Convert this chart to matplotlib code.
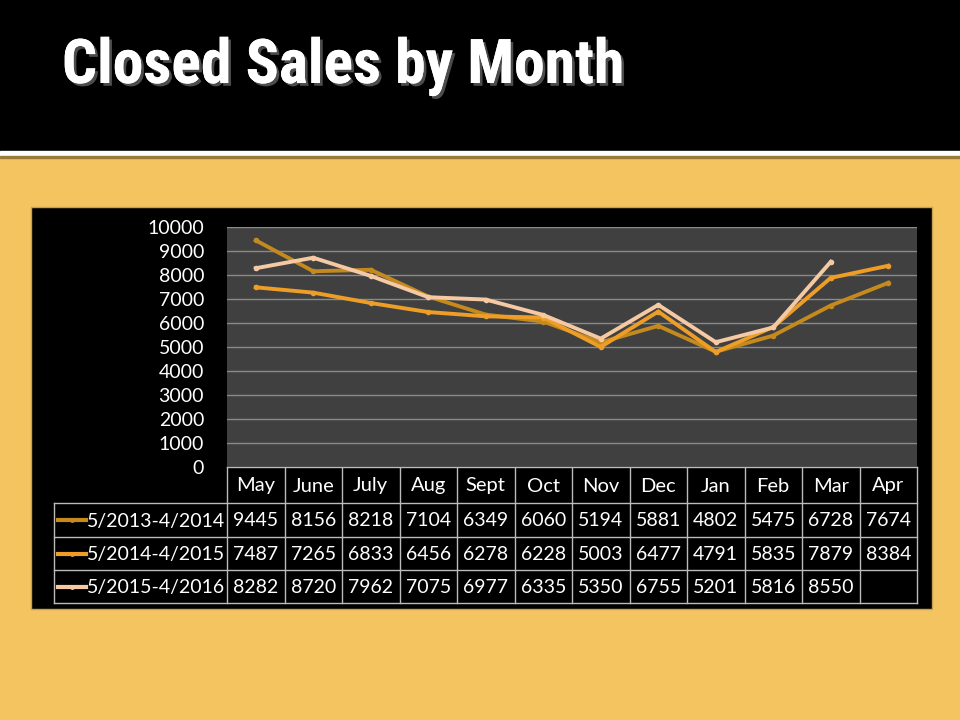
import matplotlib
matplotlib.use("Agg")
import matplotlib.pyplot as plt
import matplotlib.patheffects as pe
from matplotlib.patches import Rectangle
import numpy as np

months = ["May", "June", "July", "Aug", "Sept", "Oct", "Nov", "Dec", "Jan", "Feb", "Mar", "Apr"]
series_names = ["5/2013-4/2014", "5/2014-4/2015", "5/2015-4/2016"]
s2013 = [9445, 8156, 8218, 7104, 6349, 6060, 5194, 5881, 4802, 5475, 6728, 7674]
s2014 = [7487, 7265, 6833, 6456, 6278, 6228, 5003, 6477, 4791, 5835, 7879, 8384]
s2015 = [8282, 8720, 7962, 7075, 6977, 6335, 5350, 6755, 5201, 5816, 8550]
yticks = [0, 1000, 2000, 3000, 4000, 5000, 6000, 7000, 8000, 9000, 10000]
title = "Closed Sales by Month"

colors = ["#C48A1E", "#EE9E26", "#F5C9A3"]
bg = "#F4C461"
FONT = ["Lato", "DejaVu Sans"]

W, H = 960, 720
fig = plt.figure(figsize=(9.6, 7.2), dpi=100)
fig.patch.set_facecolor(bg)

# overlay axes in pixel coords
ov = fig.add_axes([0, 0, 1, 1])
ov.set_xlim(0, W)
ov.set_ylim(H, 0)
ov.axis("off")
ov.add_patch(Rectangle((0, 0), W, 151, color="black", zorder=1))
ov.add_patch(Rectangle((0, 151), W, 5, color="white", zorder=1))
ov.add_patch(Rectangle((0, 156), W, 2, color="#9C7A3A", zorder=1))
ov.add_patch(Rectangle((31, 207), 901, 402, facecolor="black", edgecolor="#C9A050", lw=1, zorder=1))
tt = ov.text(62, 83, title, color="white", fontsize=41, fontweight="heavy", fontstretch="condensed",
             family=["Liberation Sans Narrow", "Roboto Condensed", "DejaVu Sans"], va="baseline",
             ha="left", zorder=3,
             path_effects=[pe.withSimplePatchShadow(offset=(2, -2), shadow_rgbFace="#555555", alpha=0.9),
                           pe.Normal()])
fig.canvas.draw()
wpx = tt.get_window_extent().width
target = 593
tt.set_fontsize(41 * (target / wpx) ** 0.6)

# plot area
L, R, T, B = 227, 917, 227, 467
ax = fig.add_axes([L / W, 1 - B / H, (R - L) / W, (B - T) / H])
ax.set_facecolor("#404040")
ax.set_xlim(0, len(months))
ax.set_ylim(0, 10000)
for s in ax.spines.values():
    s.set_visible(False)
ax.set_yticks(yticks)
ax.set_yticklabels([str(v) for v in yticks], color="white", fontsize=14, family=FONT)
ax.tick_params(axis="y", length=0, pad=16.5)
ax.set_xticks([])
ax.grid(axis="y", color="#8A8A8A", lw=1)
ax.set_axisbelow(True)

for vals, c in zip([s2013, s2014, s2015], colors):
    x = np.arange(len(vals)) + 0.5
    ax.plot(x, vals, color=c, lw=2.8, marker="o", ms=3, mec=c, mfc=c, solid_joinstyle="miter", zorder=3)

# table
colw = (R - L) / len(months)
rows_y = [467, 503, 537, 570, 603]
lc = "#BBBBBB"
ov.plot([L, R], [rows_y[0], rows_y[0]], color=lc, lw=1, zorder=2)
for i in range(len(months) + 1):
    xx = L + i * colw
    ov.plot([xx, xx], [rows_y[0], rows_y[-1]], color=lc, lw=1, zorder=2)
ov.plot([54, 54], [rows_y[1], rows_y[-1]], color=lc, lw=1, zorder=2)
for yy in rows_y[1:]:
    ov.plot([54, R], [yy, yy], color=lc, lw=1, zorder=2)
for i, m in enumerate(months):
    ov.text(L + (i + 0.5) * colw, (rows_y[0] + rows_y[1]) / 2 + 1, m, color="white",
            fontsize=14.5, family=FONT, ha="center", va="center", zorder=3)
for r, (name, vals, c) in enumerate(zip(series_names, [s2013, s2014, s2015], colors)):
    yc = (rows_y[r + 1] + rows_y[r + 2]) / 2
    ov.plot([58, 86], [yc, yc], color=c, lw=3, zorder=3)
    ov.plot([72], [yc], marker="o", ms=2.5, color=c, zorder=3)
    ov.text(87, yc + 1, name, color="white", fontsize=14, family=FONT, ha="left", va="center", zorder=3)
    for i, v in enumerate(vals):
        ov.text(L + (i + 0.5) * colw, yc + 1, str(v), color="white", fontsize=14, family=FONT,
                ha="center", va="center", zorder=3)

fig.savefig("out.png", dpi=100, facecolor=bg)
